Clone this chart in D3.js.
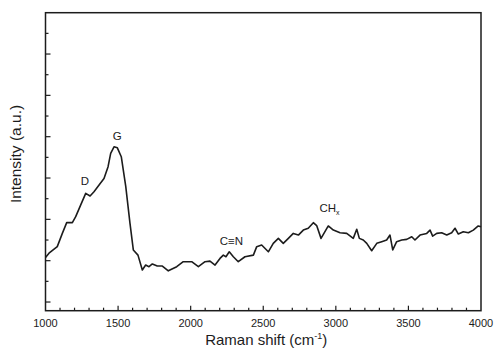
<!DOCTYPE html>
<html lang="en">
<head>
    <meta charset="UTF-8">
    <title>Raman spectrum</title>
    <style>
        body { margin: 0; background: #ffffff; }
        svg { display: block; font-family: Arial, "Liberation Sans", sans-serif; }
    </style>
</head>
<body>
    <svg id="chart" width="494" height="349"></svg>
    <script src="https://d3js.org/d3.v7.min.js"></script>
    <script>
        // Raman shift (cm-1) and intensity (a.u., one unit per minor y tick)
        const shift = [1000, 1024, 1081, 1116, 1146, 1185, 1208, 1242, 1277, 1307, 1334, 1369, 1403, 1431, 1449, 1472, 1495,
            1522, 1553, 1582, 1605, 1637, 1667, 1690, 1713, 1736, 1770, 1805, 1846, 1904, 1949, 2007, 2053, 2099, 2133,
            2168, 2202, 2225, 2243, 2266, 2294, 2328, 2374, 2432, 2455, 2489, 2535, 2569, 2604, 2638, 2673, 2707, 2742,
            2776, 2810, 2845, 2868, 2898, 2948, 2983, 3029, 3075, 3120, 3144, 3162, 3189, 3213, 3247, 3282, 3316, 3350,
            3373, 3392, 3419, 3454, 3488, 3523, 3545, 3580, 3626, 3649, 3667, 3695, 3729, 3764, 3798, 3821, 3844, 3878,
            3913, 3947, 3981, 4000];
        const intensity = [2.15, 2.36, 2.68, 3.32, 3.84, 3.84, 4.13, 4.69, 5.26, 5.13, 5.34, 5.66, 5.98, 6.55, 7.19, 7.51, 7.46,
            7.03, 5.58, 3.81, 2.52, 2.27, 1.55, 1.79, 1.71, 1.84, 1.74, 1.74, 1.51, 1.71, 1.95, 1.95, 1.71, 1.95, 1.98,
            1.79, 2.11, 2.27, 2.19, 2.43, 2.19, 1.95, 2.19, 2.27, 2.68, 2.76, 2.43, 2.84, 3.08, 2.84, 3.08, 3.32, 3.24,
            3.48, 3.57, 3.84, 3.70, 3.08, 3.68, 3.48, 3.35, 3.32, 3.08, 3.52, 3.08, 3.00, 2.84, 2.48, 2.84, 2.92, 3.00,
            3.24, 2.52, 2.92, 3.00, 3.03, 3.16, 3.00, 3.24, 3.32, 3.48, 3.19, 3.32, 3.35, 3.24, 3.35, 3.57, 3.29, 3.40,
            3.35, 3.48, 3.68, 3.64];

        // Peak annotations: label text, subscript, position in data units
        const peakText = ["D", "G", "C\u2261N", "CH"];
        const peakSub = ["", "", "", "x"];
        const peakShift = [1272, 1494, 2281, 2956];
        const peakLevel = [5.85, 8.05, 2.95, 4.55];

        const xTickLabels = [1000, 1500, 2000, 2500, 3000, 3500, 4000];

        const svg = d3.select("#chart");
        const plotLeft = 45.5, plotRight = 481, plotTop = 12.7, plotBottom = 310.7;
        const ink = "#1c1c1c";

        const x = d3.scaleLinear().domain([1000, 4000]).range([plotLeft, plotRight]);
        const y = d3.scaleLinear().domain([-0.42, 14]).range([plotBottom, plotTop]);

        // Frame
        svg.append("rect")
            .attr("x", plotLeft).attr("y", plotTop)
            .attr("width", plotRight - plotLeft).attr("height", plotBottom - plotTop)
            .attr("fill", "none").attr("stroke", ink).attr("stroke-width", 1.5);

        // Bottom axis: minor ticks every 100, major every 500
        const xTicks = d3.range(1100, 4000, 100);
        svg.append("g").selectAll("line").data(xTicks).enter().append("line")
            .attr("x1", d => x(d)).attr("x2", d => x(d))
            .attr("y1", plotBottom).attr("y2", d => plotBottom - (d % 500 === 0 ? 5 : 3))
            .attr("stroke", ink).attr("stroke-width", 1.2);

        svg.append("g").selectAll("text").data(xTickLabels).enter().append("text")
            .attr("x", d => x(d)).attr("y", 327)
            .attr("text-anchor", "middle")
            .attr("font-size", 11)
            .attr("fill", ink)
            .text(d => d);

        // Left axis: unlabelled ticks, major every second one
        const yTicks = d3.range(0, 14);
        svg.append("g").selectAll("line").data(yTicks).enter().append("line")
            .attr("x1", plotLeft).attr("x2", d => plotLeft + (d % 2 === 0 ? 5 : 3))
            .attr("y1", d => y(d)).attr("y2", d => y(d))
            .attr("stroke", ink).attr("stroke-width", 1.2);

        // Spectrum
        const line = d3.line()
            .x((d, i) => x(shift[i]))
            .y(d => y(d));
        svg.append("path")
            .datum(intensity)
            .attr("d", line)
            .attr("fill", "none")
            .attr("stroke", ink)
            .attr("stroke-width", 1.6)
            .attr("stroke-linejoin", "round");

        // Peak labels
        const labels = svg.append("g").selectAll("text").data(peakText).enter().append("text")
            .attr("x", (d, i) => x(peakShift[i]))
            .attr("y", (d, i) => y(peakLevel[i]) + 4)
            .attr("text-anchor", "middle")
            .attr("font-size", 11.5)
            .attr("fill", ink);
        labels.append("tspan").text(d => d);
        labels.append("tspan")
            .attr("font-size", 7)
            .attr("dy", 3)
            .text((d, i) => peakSub[i]);

        // Axis titles
        svg.append("text")
            .attr("x", (plotLeft + plotRight) / 2 + 3).attr("y", 345)
            .attr("text-anchor", "middle")
            .attr("font-size", 15)
            .attr("fill", ink)
            .text("Raman shift (cm")
            .append("tspan").attr("font-size", 9).attr("dy", -6).text("-1")
            .append("tspan").attr("font-size", 15).attr("dy", 6).text(")");

        svg.append("text")
            .attr("transform", "translate(21,154) rotate(-90)")
            .attr("text-anchor", "middle")
            .attr("font-size", 15.5)
            .attr("fill", ink)
            .text("Intensity (a.u.)");
    </script>
</body>
</html>
